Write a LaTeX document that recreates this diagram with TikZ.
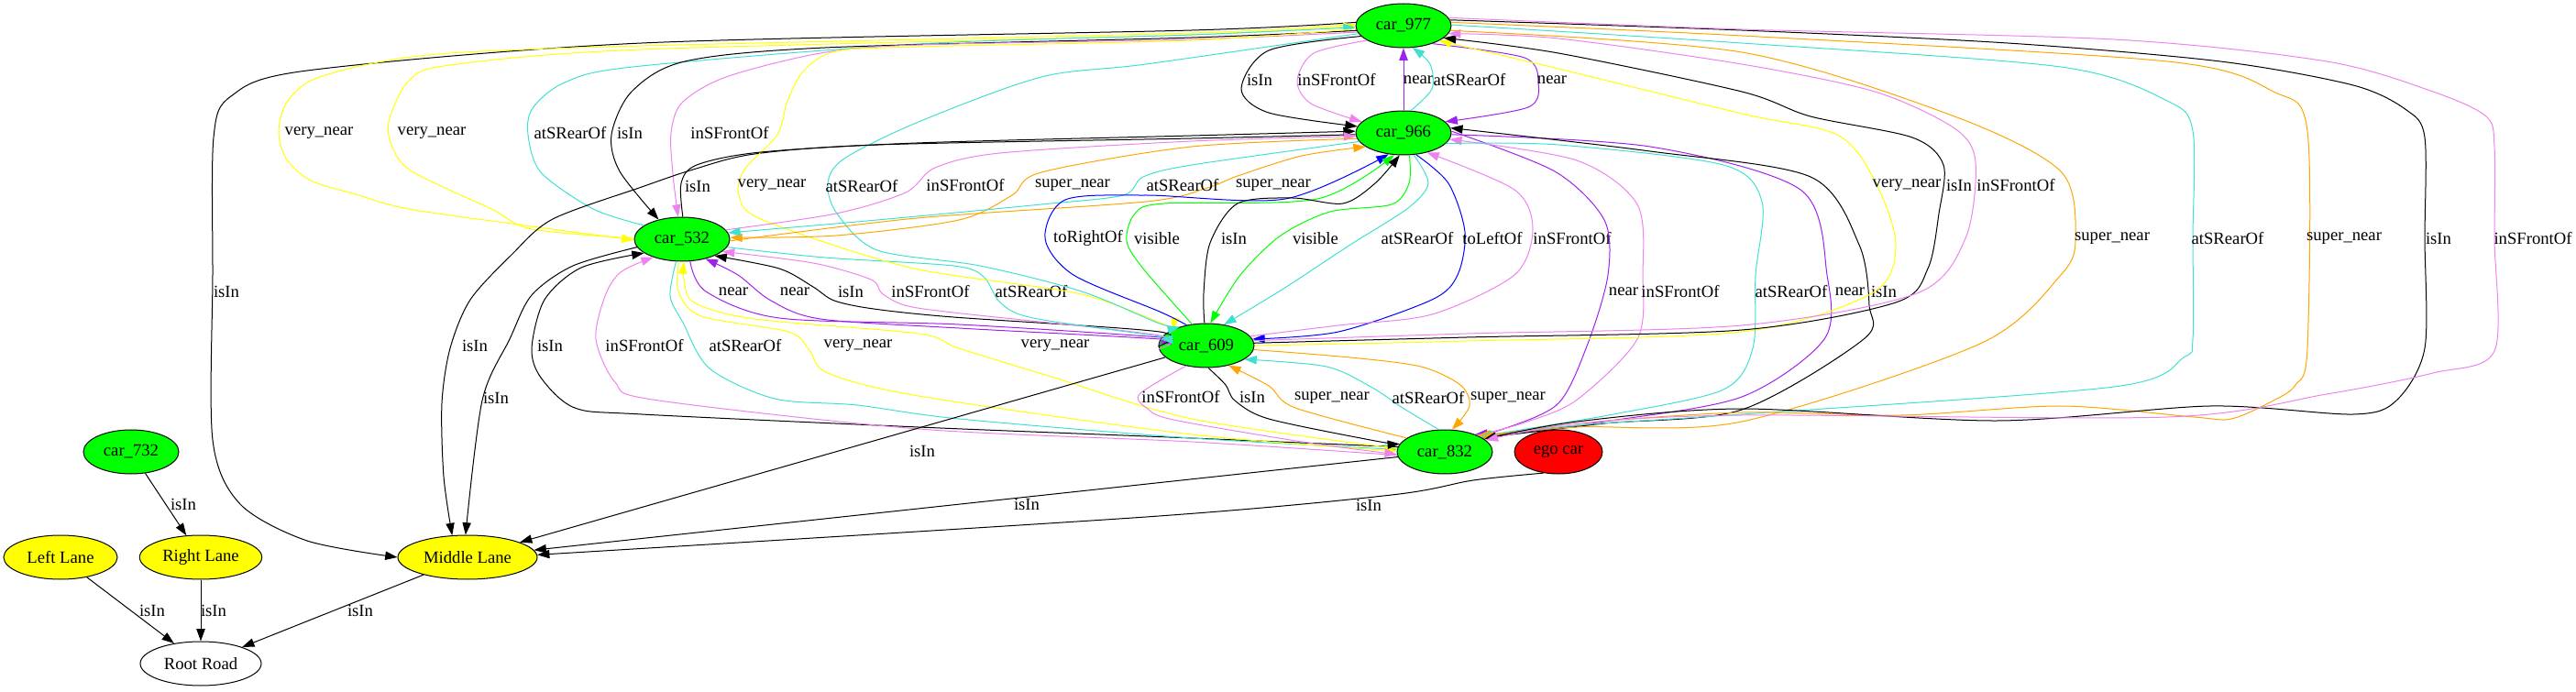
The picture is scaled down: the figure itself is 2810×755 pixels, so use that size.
\documentclass[tikz,border=0pt]{standalone}
\usepackage{fontspec}
\setmainfont{Liberation Serif}
\usepackage{tikz}
\usetikzlibrary{shapes.geometric, arrows.meta}

\definecolor{carGreen}{HTML}{00FF00}
\definecolor{laneYellow}{HTML}{FFFF00}
\definecolor{egoRed}{HTML}{FF0000}
\definecolor{gvViolet}{HTML}{EE82EE}
\definecolor{gvTurquoise}{HTML}{40E0D0}
\definecolor{gvPurple}{HTML}{A020F0}
\definecolor{gvOrange}{HTML}{FFA500}
\definecolor{gvYellow}{HTML}{FFFF00}
\definecolor{gvGreen}{HTML}{00FF00}
\definecolor{gvBlue}{HTML}{0000FF}

\begin{document}
\begin{tikzpicture}[x=0.75pt, y=-0.75pt,
    >={Triangle[length=10pt,width=7pt]},
    every node/.style={font=\fontsize{14}{16}\selectfont},
    obj/.style={ellipse, draw, line width=0.75pt, inner sep=0pt, minimum height=36pt},
    car/.style={obj, fill=carGreen, minimum width=78pt},
    egocar/.style={obj, fill=egoRed, minimum width=72pt},
    lane/.style={obj, fill=laneYellow},
    road/.style={obj, fill=white, minimum width=99pt},
    lbl/.style={inner sep=0pt},
    relEdge/.style={->, line width=0.75pt},
    isInEdge/.style={relEdge, draw=black},
    nearEdge/.style={relEdge, draw=gvPurple},
    vnearEdge/.style={relEdge, draw=gvYellow},
    snearEdge/.style={relEdge, draw=gvOrange},
    frontEdge/.style={relEdge, draw=gvViolet},
    rearEdge/.style={relEdge, draw=gvTurquoise},
    visEdge/.style={relEdge, draw=gvGreen},
    sideEdge/.style={relEdge, draw=gvBlue}]
\useasboundingbox (0,0) rectangle (2810,755);

\node[car] (c977) at (1531,28) {car\_977};
\node[car] (c966) at (1531,145) {car\_966};
\node[car] (c532) at (744,261) {car\_532};
\node[car] (c609) at (1316,377) {car\_609};
\node[car] (c832) at (1576,493) {car\_832};
\node[egocar] (ego) at (1700,493) {ego car};
\node[car] (c732) at (143,493) {car\_732};
\node[lane, minimum width=93pt] (lleft) at (66,608) {Left Lane};
\node[lane, minimum width=100pt] (lright) at (219,608) {Right Lane};
\node[lane, minimum width=114pt] (lmid) at (510,608) {Middle Lane};
\node[road] (root) at (219,724) {Root Road};

\draw[isInEdge] plot[smooth] coordinates {(c977.176) (1300,33) (700,47) (335,77) (252,105) (233,150) (232,300) (232,480) (262,550) (335,590) (lmid.180)} node[lbl] (t01) at (247,318) {isIn};
\draw[vnearEdge] plot[smooth] coordinates {(c977.178) (1300,36) (700,50) (491,58) (402,70) (339,88) (312,113) (304,143) (312,173) (339,197) (388,212) (446,228) (580,247) (c532.181)} node[lbl] (t02) at (348,145) {very\_near};
\draw[vnearEdge] plot[smooth] coordinates {(c532.179) (580,250) (536,228) (451,188) (429,163) (424,133) (446,88) (491,71) (700,54) (1300,38) (c977.180)} node[lbl] (t03) at (471,145) {very\_near};
\draw[rearEdge] plot[smooth] coordinates {(c532.160) (647,228) (590,188) (576,147) (581,118) (616,90) (690,73) (1000,48) (1300,38) (c977.182)} node[lbl] (t04) at (622,145) {atSRearOf};
\draw[isInEdge] plot[smooth] coordinates {(c977.186) (1300,41) (900,52) (747,67) (689,100) (667,147) (676,187) (c532.140)} node[lbl] (t05) at (687,145) {isIn};
\draw[frontEdge] plot[smooth] coordinates {(c977.188) (1300,43) (1000,49) (895,58) (792,84) (744,112) (732,145) (734,190) (c532.100)} node[lbl] (t06) at (796,145) {inSFrontOf};
\draw[isInEdge] plot[smooth] coordinates {(c966.182) (1300,151) (957,158) (823,168) (756,185) (700,204) (603,239) (558,278) (513,327) (491,380) (482,440) (484,520) (lmid.125)} node[lbl] (t07) at (518,377) {isIn};
\draw[isInEdge] plot[smooth] coordinates {(c532.190) (625,290) (580,322) (556,370) (526,437) (lmid.95)} node[lbl] (t08) at (541,434) {isIn};
\draw[isInEdge] plot[smooth] coordinates {(c832.174) (1300,478) (1002,466) (700,452) (627,445) (590,412) (580,380) (594,327) (634,292) (c532.200)} node[lbl] (t09) at (600,377) {isIn};
\draw[frontEdge] plot[smooth] coordinates {(c832.184) (1300,482) (1002,468) (712,436) (671,417) (650,370) (660,323) (677,297) (c532.212)} node[lbl] (t10) at (703,377) {inSFrontOf};
\draw[rearEdge] plot[smooth] coordinates {(c532.255) (731,323) (745,352) (774,402) (845,435) (935,442) (1046,457) (1300,478) (c832.177)} node[lbl] (t11) at (813,377) {atSRearOf};
\draw[vnearEdge] plot[smooth] coordinates {(c532.262) (740,318) (765,345) (860,362) (883,382) (903,407) (1002,432) (1300,474) (c832.179)} node[lbl] (t12) at (936,377) {very\_near};
\draw[vnearEdge] plot[smooth] coordinates {(c832.176) (1300,457) (1150,412) (1046,380) (1002,364) (823,348) (757,330) (746,305) (c532.275)} node[lbl] (t13) at (1151,377) {very\_near};
\draw[nearEdge] plot[smooth] coordinates {(c532.290) (770,318) (850,347) (1046,354) (1265,368) (c609.175)} node[lbl] (t14) at (800,318) {near};
\draw[nearEdge] plot[smooth] coordinates {(c609.178) (1265,370) (1046,358) (895,348) (841,328) (805,300) (c532.320)} node[lbl] (t15) at (867,318) {near};
\draw[isInEdge] plot[smooth] coordinates {(c609.181) (1265,362) (1040,346) (953,337) (910,328) (887,313) (850,293) (c532.333)} node[lbl] (t16) at (928,318) {isIn};
\draw[frontEdge] plot[smooth] coordinates {(c609.184) (1265,366) (1040,341) (987,333) (962,320) (950,305) (887,287) (c532.343)} node[lbl] (t17) at (1015,318) {inSFrontOf};
\draw[rearEdge] plot[smooth] coordinates {(c532.350) (900,281) (1040,290) (1073,302) (1091,330) (1127,347) (1265,367) (c609.172)} node[lbl] (t18) at (1125,318) {atSRearOf};
\draw[vnearEdge] plot[smooth] coordinates {(c977.184) (1300,44) (1000,51) (912,56) (877,77) (859,110) (848,147) (812,185) (806,213) (832,240) (993,292) (1175,320) (1265,352) (c609.155)} node[lbl] (t19) at (842,202) {very\_near};
\draw[rearEdge] plot[smooth] coordinates {(c977.190) (1250,70) (1136,84) (1002,133) (921,173) (903,200) (913,233) (957,273) (1069,290) (1180,318) (1265,353) (c609.145)} node[lbl] (t20) at (940,203) {atSRearOf};
\draw[isInEdge] plot[smooth] coordinates {(c532.88) (743,200) (760,180) (830,166) (1000,156) (1300,148) (c966.178)} node[lbl] (t21) at (761,203) {isIn};
\draw[frontEdge] plot[smooth] coordinates {(c532.12) (912,233) (988,210) (1020,183) (1091,167) (1300,154) (c966.184)} node[lbl] (t22) at (1053,202) {inSFrontOf};
\draw[snearEdge] plot[smooth] coordinates {(c966.187) (1300,160) (1136,188) (1104,213) (1046,240) (912,257) (c532.2)} node[lbl] (t23) at (1170,202) {super\_near};
\draw[snearEdge] plot[smooth] coordinates {(c532.358) (1000,238) (1250,220) (1317,205) (1350,192) (1420,170) (c966.200)} node[lbl] (t24) at (1389,202) {super\_near};
\draw[rearEdge] plot[smooth] coordinates {(c966.191) (1300,180) (1247,193) (1225,213) (1136,223) (957,240) (c532.8)} node[lbl] (t25) at (1290,202) {atSRearOf};
\draw[sideEdge] plot[smooth] coordinates {(c609.134) (1265,340) (1171,300) (1140,260) (1162,218) (1250,213) (1402,217) (c966.235)} node[lbl] (t26) at (1187,260) {toRightOf};
\draw[visEdge] plot[smooth] coordinates {(c609.124) (1247,293) (1229,263) (1238,233) (1270,222) (1437,217) (c966.247)} node[lbl] (t27) at (1262,260) {visible};
\draw[isInEdge] plot[smooth] coordinates {(c609.95) (1313,320) (1320,265) (1350,222) (1410,216) (1465,222) (1500,200) (c966.260)} node[lbl] (t28) at (1346,260) {isIn};
\draw[visEdge] plot[smooth] coordinates {(c966.285) (1537,200) (1518,223) (1451,231) (1397,257) (1353,300) (c609.80)} node[lbl] (t29) at (1435,260) {visible};
\draw[rearEdge] plot[smooth] coordinates {(c966.295) (1558,200) (1536,227) (1473,267) (1400,315) (c609.50)} node[lbl] (t30) at (1546,260) {atSRearOf};
\draw[sideEdge] plot[smooth] coordinates {(c966.300) (1580,200) (1598,253) (1590,300) (1562,327) (1460,362) (c609.8)} node[lbl] (t31) at (1628,260) {toLeftOf};
\draw[frontEdge] plot[smooth] coordinates {(c609.12) (1460,355) (1562,343) (1652,300) (1672,250) (1652,207) (c966.320)} node[lbl] (t32) at (1715,260) {inSFrontOf};
\draw[isInEdge] plot[smooth] coordinates {(c977.194) (1384,55) (1354,97) (1384,123) (c966.172)} node[lbl] (t33) at (1374,87) {isIn};
\draw[frontEdge] plot[smooth] coordinates {(c977.202) (1433,58) (1415,88) (1430,113) (c966.165)} node[lbl] (t34) at (1458,87) {inSFrontOf};
\draw[nearEdge] (c966) -- (c977) node[lbl] (t35) at (1547,87) {near};
\draw[rearEdge] plot[smooth] coordinates {(c966.72) (1562,97) (1560,70) (c977.292)} node[lbl] (t36) at (1603,87) {atSRearOf};
\draw[nearEdge] plot[smooth] coordinates {(c977.328) (1663,63) (1678,90) (1667,117) (c966.15)} node[lbl] (t37) at (1693,87) {near};
\draw[nearEdge] plot[smooth] coordinates {(c966.2) (1696,187) (1750,240) (1754,300) (1732,375) (1700,440) (1640,468) (c832.30)} node[lbl] (t38) at (1771,318) {near};
\draw[frontEdge] plot[smooth] coordinates {(c832.27) (1660,462) (1719,437) (1786,370) (1792,300) (1786,223) (1720,175) (c966.352)} node[lbl] (t39) at (1833,318) {inSFrontOf};
\draw[rearEdge] plot[smooth] coordinates {(c966.346) (1700,158) (1880,180) (1922,220) (1915,300) (1912,380) (1880,425) (1760,452) (c832.24)} node[lbl] (t40) at (1954,318) {atSRearOf};
\draw[nearEdge] plot[smooth] coordinates {(c966.358) (1800,160) (1964,207) (1993,300) (1990,370) (1900,433) (1750,460) (c832.22)} node[lbl] (t41) at (2018,318) {near};
\draw[isInEdge] plot[smooth] coordinates {(c832.20) (1750,462) (1900,447) (2033,370) (2039,333) (2028,267) (1975,193) (1800,165) (c966.6)} node[lbl] (t42) at (2055,318) {isIn};
\draw[vnearEdge] plot[smooth] coordinates {(c609.0) (1600,372) (1900,362) (2042,320) (2068,267) (2045,197) (2004,147) (1900,124) (1700,75) (c977.337)} node[lbl] (t43) at (2080,202) {very\_near};
\draw[isInEdge] plot[smooth] coordinates {(c609.3) (1600,368) (1900,360) (2068,330) (2103,293) (2115,233) (2120,180) (2086,150) (1975,127) (1900,100) (1700,58) (c977.343)} node[lbl] (t44) at (2137,202) {isIn};
\draw[frontEdge] plot[smooth] coordinates {(c609.6) (1600,364) (1900,355) (2091,320) (2144,260) (2155,177) (2132,140) (2045,100) (1900,70) (1700,42) (c977.350)} node[lbl] (t45) at (2199,202) {inSFrontOf};
\draw[snearEdge] plot[smooth] coordinates {(c977.354) (1900,57) (2132,127) (2248,187) (2264,260) (2248,300) (2160,375) (1900,460) (1720,466) (c832.26)} node[lbl] (t46) at (2304,260) {super\_near};
\draw[rearEdge] plot[smooth] coordinates {(c977.1) (1900,47) (2248,73) (2364,110) (2392,143) (2392,260) (2392,370) (2382,390) (2306,422) (1900,452) (1720,464) (c832.23)} node[lbl] (t47) at (2430,260) {atSRearOf};
\draw[snearEdge] plot[smooth] coordinates {(c977.4) (1900,39) (2364,67) (2480,100) (2517,143) (2517,380) (2504,420) (2480,437) (2434,457) (2393,455) (2248,443) (2074,453) (1900,450) (1720,462) (c832.21)} node[lbl] (t48) at (2557,260) {super\_near};
\draw[isInEdge] plot[smooth] coordinates {(c977.7) (1900,33) (2190,47) (2422,67) (2567,93) (2625,120) (2645,150) (2645,260) (2645,380) (2614,437) (2567,452) (2411,443) (2179,459) (1900,446) (1720,460) (c832.18)} node[lbl] (t49) at (2660,260) {isIn};
\draw[frontEdge] plot[smooth] coordinates {(c977.10) (1900,32) (2306,43) (2538,67) (2654,100) (2712,127) (2721,160) (2721,260) (2721,383) (2654,407) (2538,430) (2364,455) (1900,453) (1720,462) (c832.16)} node[lbl] (t50) at (2763,260) {inSFrontOf};
\draw[frontEdge] plot[smooth] coordinates {(c609.225) (1243,430) (1252,446) (1280,458) (1420,482) (c832.183)} node[lbl] (t51) at (1288,433) {inSFrontOf};
\draw[isInEdge] plot[smooth] coordinates {(c609.275) (1337,420) (1347,437) (1384,457) (1500,481) (c832.170)} node[lbl] (t52) at (1366,433) {isIn};
\draw[snearEdge] plot[smooth] coordinates {(c832.160) (1413,445) (1384,421) (c609.318)} node[lbl] (t53) at (1453,434) {super\_near};
\draw[rearEdge] plot[smooth] coordinates {(c832.105) (1530,445) (1497,423) (1447,400) (c609.340)} node[lbl] (t54) at (1558,434) {atSRearOf};
\draw[snearEdge] plot[smooth] coordinates {(c609.355) (1473,390) (1550,400) (1593,420) (1603,443) (c832.72)} node[lbl] (t55) at (1645,434) {super\_near};
\draw[isInEdge] (c609) -- (lmid) node[lbl] (t56) at (1006,492) {isIn};
\draw[isInEdge] (c832) -- (lmid) node[lbl] (t57) at (1120,550) {isIn};
\draw[isInEdge] plot[smooth] coordinates {(ego.235) (1607,524) (1518,540) (1250,564) (lmid.2)} node[lbl] (t58) at (1493,551) {isIn};
\draw[isInEdge] (c732) -- (lright) node[lbl] (t59) at (200,550) {isIn};
\draw[isInEdge] (lleft) -- (root) node[lbl] (t60) at (166,666) {isIn};
\draw[isInEdge] (lright) -- (root) node[lbl] (t61) at (233,666) {isIn};
\draw[isInEdge] (lmid) -- (root) node[lbl] (t62) at (393,666) {isIn};
\end{tikzpicture}
\end{document}
